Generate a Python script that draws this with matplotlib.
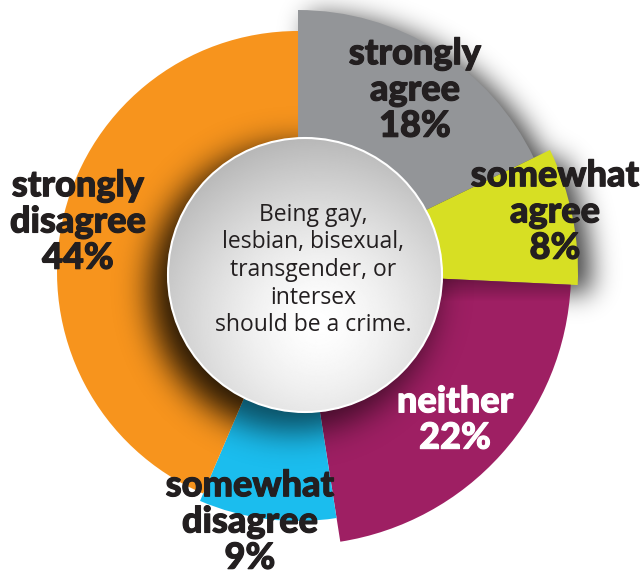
import numpy as np
import matplotlib
matplotlib.use('Agg')
import matplotlib.pyplot as plt
import matplotlib.patheffects as pe
from matplotlib.patches import Circle

# DATA
labels = ['strongly\nagree', 'somewhat\nagree', 'neither', 'somewhat\ndisagree', 'strongly\ndisagree']
shares = [18, 8, 22, 9, 44]
question = 'Being gay,\nlesbian, bisexual,\ntransgender, or\nintersex\nshould be a crime.'

# STYLE
colors = ['#939598', '#d7df23', '#9e1f63', '#1bbdee', '#f7941d']
outer_r = [262, 280, 273, 249, 241]
text_col = ['#231f20', '#231f20', '#ffffff', '#231f20', '#231f20']
label_xy = [(415, 90), (555, 212), (455, 420), (250, 522), (78, 222)]   # pixel coords, y down

W, H = 642, 576
cx, cy = 298, H - 272          # donut centre
hx, hy, hr = 305, H - 275, 137  # white hub


def blur(a, s):
    # separable gaussian blur
    k = np.arange(-3 * s, 3 * s + 1)
    g = np.exp(-k ** 2 / (2.0 * s * s))
    g /= g.sum()
    a = np.apply_along_axis(lambda m: np.convolve(m, g, mode='same'), 0, a)
    a = np.apply_along_axis(lambda m: np.convolve(m, g, mode='same'), 1, a)
    return a


py, px = np.mgrid[0:H, 0:W]
gy = H - py - 0.5
gx = px + 0.5


def shadow_img(mask, alpha, s):
    im = np.zeros((H, W, 4))
    im[..., 3] = np.clip(blur(mask.astype(float), s) * alpha, 0, 1)
    return im


fig = plt.figure(figsize=(W / 100, H / 100), dpi=100)
ax = fig.add_axes([0, 0, 1, 1])

# shadow cast by the two "agree" wedges
fracs = np.array(shares, float) / sum(shares)
edges = 90 - 360 * np.concatenate([[0], np.cumsum(fracs)])
ox, oy = 10, -8
ang = np.degrees(np.arctan2(gy - (cy + oy), gx - (cx + ox)))
rad = np.hypot(gx - (cx + ox), gy - (cy + oy))
m = np.zeros((H, W), bool)
for i in (0, 1):
    a2, a1 = edges[i], edges[i + 1]
    m |= (ang <= a2) & (ang >= a1) & (rad <= outer_r[i] + 3)
ax.imshow(shadow_img(m, 0.75, 13), extent=(0, W, 0, H), origin='upper', zorder=0.5)

wedges, _ = ax.pie(shares, colors=colors, startangle=90, counterclock=False,
                   center=(cx, cy), radius=250, wedgeprops=dict(linewidth=0))
for w, r in zip(wedges, outer_r):
    w.set_radius(r)

# dark band on purple just under the yellow wedge
img = np.zeros((30, 10, 4))
img[..., 3] = np.linspace(0.4, 0, 30)[:, None]
im = ax.imshow(img, extent=(cx, cx + 290, cy - 30, cy), origin='upper', zorder=2)
im.set_clip_path(wedges[2])

# hub drop shadow
hm = np.hypot(gx - (hx - 12), gy - (hy - 14)) <= hr + 6
for wi, a in ((4, 0.85), (3, 0.6), (2, 0.6)):
    hs = ax.imshow(shadow_img(hm, a, 16), extent=(0, W, 0, H), origin='upper', zorder=2.5)
    hs.set_clip_path(wedges[wi])

# hub with a soft radial gradient
yy, xx = np.mgrid[-1:1:300j, -1:1:300j]
d = np.sqrt((xx - 0.1) ** 2 + (yy + 0.35) ** 2)
val = 1.0 - 0.28 * np.clip(d / 1.35, 0, 1) ** 1.5
hub = ax.imshow(val, cmap='gray', vmin=0, vmax=1, extent=(hx - hr, hx + hr, hy - hr, hy + hr),
                origin='lower', zorder=4, interpolation='bilinear')
rim = Circle((hx, hy), hr, facecolor='none', edgecolor='white', lw=1.5, zorder=5)
ax.add_patch(rim)
hub.set_clip_path(rim)

ax.text(313, H - 270, question, ha='center', va='center', fontsize=16.5, color='#231f20',
        family='Open Sans', linespacing=1.2, zorder=6)

for lab, s, (lx, ly), c in zip(labels, shares, label_xy, text_col):
    ax.text(lx, H - ly, f'{lab}\n{s}%', ha='center', va='center', fontsize=26, color=c,
            family='Lato', weight='black', linespacing=1.12, zorder=7,
            path_effects=[pe.withStroke(linewidth=0.8, foreground=c)])

ax.set_xlim(0, W)
ax.set_ylim(0, H)
ax.set_aspect('equal')
ax.axis('off')

fig.savefig('out.png', dpi=100)
